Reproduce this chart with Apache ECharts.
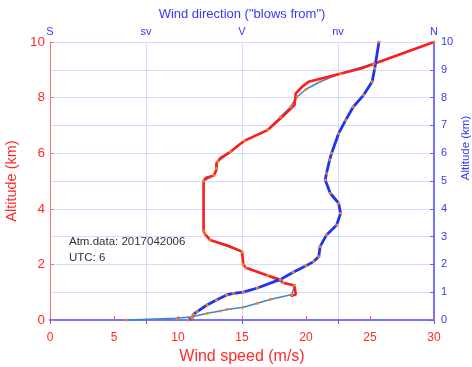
<!DOCTYPE html>
<html>
<head>
<meta charset="utf-8">
<script src="https://cdn.jsdelivr.net/npm/echarts@6/dist/echarts.min.js"></script>
<style>
  html, body { margin: 0; padding: 0; background: #fff; }
  #chart { width: 472px; height: 367px; }
</style>
</head>
<body>
<div id="chart"></div>
<script>
// Sounding profile: altitude (km) against wind speed (m/s) and wind direction (deg)

// Wind speed, raw sounding values: [speed m/s, altitude km]
const speedRaw = [
  [18.8, 0.86], [19.2, 0.92], [19.1, 1.24], [18.2, 1.34], [18.0, 1.45],
  [17.0, 1.6], [15.3, 1.88], [15.1, 2.0], [15.0, 2.46], [14.1, 2.64],
  [12.5, 2.88], [12.1, 3.1], [12.0, 3.2], [12.0, 5.0], [12.2, 5.12],
  [12.8, 5.2], [13.0, 5.4], [13.0, 5.64], [13.3, 5.82], [14.1, 6.05],
  [14.9, 6.35], [15.3, 6.47], [17.0, 6.83], [18.0, 7.25], [19.1, 7.73],
  [19.2, 8.15], [19.7, 8.39], [20.2, 8.57], [24.3, 9.05], [30.0, 10.0]
];

// Wind speed, full smoothed profile from the ground: [speed m/s, altitude km]
const speedSmooth = [
  [6.0, 0.0], [9.9, 0.06], [11.1, 0.12], [12.3, 0.24], [13.3, 0.32],
  [13.8, 0.38], [15.1, 0.46], [16.2, 0.6], [17.2, 0.74], [18.9, 0.92],
  [19.1, 1.24], [18.2, 1.34], [17.0, 1.6], [15.3, 1.88], [15.1, 2.0],
  [15.0, 2.45], [12.5, 2.88], [12.1, 3.1], [12.0, 3.2], [12.0, 5.0],
  [12.8, 5.2], [13.0, 5.45], [13.1, 5.7], [14.1, 6.05], [15.2, 6.45],
  [17.0, 6.85], [18.0, 7.3], [18.8, 7.67], [19.3, 8.03], [20.0, 8.3],
  [21.1, 8.57], [22.7, 8.87], [25.3, 9.23], [30.0, 10.0]
];

// Wind direction ("blows from"): [degrees, altitude km]
const windDir = [
  [244.8, 0.0], [246.6, 0.06], [247.2, 0.2], [249.0, 0.3], [253.6, 0.54],
  [258.0, 0.72], [262.8, 0.9], [266.0, 0.96], [270.6, 1.0], [277.2, 1.15],
  [288.0, 1.46], [294.0, 1.72], [300.0, 1.95], [303.6, 2.1], [306.0, 2.28],
  [306.6, 2.64], [309.6, 3.06], [314.4, 3.42], [316.2, 3.84], [315.3, 4.2],
  [311.4, 4.56], [309.0, 5.04], [309.6, 5.28], [311.1, 5.76], [312.0, 6.0],
  [315.3, 6.71], [318.6, 7.19], [322.2, 7.67], [327.0, 8.09], [331.0, 8.57],
  [332.2, 9.05], [334.2, 10.0]
];

// Compass labels for the top axis
const dirTicks = [180, 225, 270, 315, 360];
const dirLabels = ['S', 'sv', 'V', 'nv', 'N'];

const RED = '#ff2a2a';
const BLUE = '#3838f2';
const ORANGE = '#e8842e';
const FONT = 'Liberation Sans';

const chart = echarts.init(document.getElementById('chart'), null, { renderer: 'canvas' });

// orange level markers drawn on top of a profile
function levelMarks(name, data, xAxisIndex) {
  return {
    name, type: 'line', xAxisIndex, yAxisIndex: 0, data,
    showSymbol: true, showAllSymbol: true, symbol: 'circle', symbolSize: 3,
    itemStyle: { color: ORANGE, borderWidth: 0 },
    lineStyle: { opacity: 0 }, z: 5, silent: true
  };
}

chart.setOption({
  animation: false,
  backgroundColor: '#ffffff',
  textStyle: { fontFamily: FONT },
  grid: { left: 50, right: 38, top: 42, bottom: 47, containLabel: false, outerBoundsMode: 'none' },
  xAxis: [
    {
      type: 'value', position: 'bottom', min: 0, max: 30, interval: 5,
      name: 'Wind speed (m/s)', nameLocation: 'middle', nameGap: 27,
      nameTextStyle: { color: RED, fontSize: 16, fontFamily: FONT },
      axisLine: { show: true, lineStyle: { color: '#f39a9a', width: 2 } },
      axisTick: { show: true, inside: true, length: 4, lineStyle: { color: '#f06060' } },
      axisLabel: { color: RED, fontSize: 12, margin: 12, fontFamily: FONT },
      splitLine: { show: false }
    },
    {
      type: 'value', position: 'top', min: 180, max: 360, interval: 45,
      name: 'Wind direction ("blows from")', nameLocation: 'middle', nameGap: 21,
      nameTextStyle: { color: BLUE, fontSize: 13, fontFamily: FONT },
      axisLine: { show: true, lineStyle: { color: '#7474ff', width: 2 } },
      axisTick: { show: true, inside: true, length: 4, lineStyle: { color: '#6060ff' } },
      axisLabel: {
        color: BLUE, fontSize: 11, margin: 5, fontFamily: FONT,
        formatter: v => dirLabels[dirTicks.indexOf(Math.round(v))] || ''
      },
      splitLine: { show: true, lineStyle: { color: '#d6dbff', width: 1 } }
    }
  ],
  yAxis: [
    {
      type: 'value', position: 'left', min: 0, max: 10, interval: 2,
      name: 'Altitude (km)', nameLocation: 'middle', nameGap: 22, nameRotate: 90,
      nameTextStyle: { color: RED, fontSize: 14.5, fontFamily: FONT },
      axisLine: { show: true, lineStyle: { color: '#ff7070', width: 1 } },
      axisTick: { show: true, inside: true, length: 4, lineStyle: { color: '#ff7070' } },
      axisLabel: { color: RED, fontSize: 13.5, margin: 5, fontFamily: FONT },
      splitLine: { show: false }
    },
    {
      type: 'value', position: 'right', min: 0, max: 10, interval: 1,
      axisLine: { show: true, lineStyle: { color: '#7474ff', width: 2 } },
      axisTick: { show: true, inside: true, length: 4, lineStyle: { color: '#6060ff' } },
      axisLabel: { color: BLUE, fontSize: 11, margin: 7, fontFamily: FONT },
      splitLine: { show: true, lineStyle: { color: '#d6dbff', width: 1 } }
    }
  ],
  series: [
    {
      name: 'speed smooth', type: 'line', xAxisIndex: 0, yAxisIndex: 0,
      data: speedSmooth, showSymbol: false, symbol: 'none',
      lineStyle: { color: '#3d86c6', width: 1.5 }, z: 2
    },
    {
      name: 'speed raw', type: 'line', xAxisIndex: 0, yAxisIndex: 0,
      data: speedRaw, showSymbol: false, symbol: 'none',
      lineStyle: { color: '#ff1c1c', width: 2.6 }, z: 3
    },
    {
      name: 'direction', type: 'line', xAxisIndex: 1, yAxisIndex: 0,
      data: windDir, showSymbol: false, symbol: 'none',
      lineStyle: { color: '#1e34f5', width: 2.8 }, z: 3
    },
    levelMarks('speed levels', speedSmooth, 0),
    levelMarks('direction levels', windDir, 1),
    {
      // keeps the right altitude axis bound to the grid
      name: 'right axis', type: 'line', xAxisIndex: 0, yAxisIndex: 1,
      data: [], symbol: 'none'
    }
  ],
  graphic: [
    {
      type: 'text', left: 69, top: 236,
      style: { text: 'Atm.data: 2017042006', fill: '#333333', font: '11.5px "Liberation Sans"' }
    },
    {
      type: 'text', left: 69, top: 252,
      style: { text: 'UTC: 6', fill: '#333333', font: '11.5px "Liberation Sans"' }
    },
    {
      // right-hand altitude axis title, reading bottom to top
      type: 'text', x: 466, y: 148, rotation: Math.PI / 2,
      style: {
        text: 'Altitude (km)', fill: BLUE, font: '11.5px "Liberation Sans"',
        align: 'center', verticalAlign: 'middle'
      }
    }
  ]
});
</script>
</body>
</html>
